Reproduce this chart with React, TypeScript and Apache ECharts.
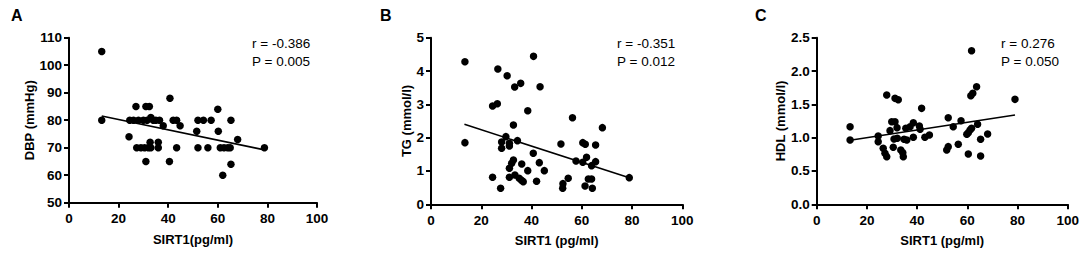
import React, { useEffect, useRef } from "react";
import * as echarts from "echarts";

// Panel A: SIRT1 (pg/ml) vs DBP (mmHg)
const pointsA: number[][] = [
  [13.2, 105], [13.2, 80],
  [24.5, 80], [26, 80], [28, 80], [30, 80], [31.5, 80], [34, 80], [35, 80], [36.5, 80], [33, 81],
  [42, 80], [43.4, 80], [52, 80], [54.2, 80], [57.3, 80], [65.3, 80],
  [27, 85], [31, 85], [32.4, 85],
  [40.7, 88], [24.2, 74], [38, 78], [44.8, 78],
  [27.3, 70], [29, 70], [30.5, 70], [32, 70], [33, 70], [36, 70], [43.4, 70], [52, 70], [56, 70],
  [61, 70], [62.5, 70], [64, 70], [65, 70], [78.8, 70],
  [32.7, 72], [36, 72], [31, 65], [40.5, 65],
  [51.5, 76], [60, 84], [60.2, 76], [68, 73], [65.3, 64], [62, 60],
];
const fitA: number[][] = [[13.2, 81.5], [78.8, 69.2]];

// Panel B: SIRT1 (pg/ml) vs TG (mmol/l)
const pointsB: number[][] = [
  [13.5, 4.28], [13.5, 1.85], [26.6, 4.06], [30.3, 3.86], [40.8, 4.44], [35.7, 3.63], [33.3, 3.52],
  [43.4, 3.53], [24.5, 2.95], [26.4, 3.02], [38.5, 2.81], [32.8, 2.38], [56.3, 2.6], [68.2, 2.3],
  [29.8, 2.03], [28.1, 1.87], [31.2, 1.83], [31.2, 1.75], [34.4, 1.91], [28.1, 1.68], [40.7, 1.53],
  [32.8, 1.33], [32.1, 1.23], [31.2, 1.08], [36.1, 1.21], [43.1, 1.25], [38.5, 1.01], [45.1, 1.01],
  [24.5, 0.81], [31.2, 0.81], [33.4, 0.88], [35.1, 0.78], [36.0, 0.72], [36.7, 0.68], [42, 0.69],
  [27.7, 0.48], [51.7, 1.81], [60.4, 1.85], [61.4, 1.8], [65.5, 1.78], [57.7, 1.3], [60.4, 1.26],
  [61.9, 1.41], [65.5, 1.28], [63.9, 1.16], [54.6, 0.78], [52.5, 0.62], [52.4, 0.48], [61.3, 0.55],
  [62.6, 0.76], [63.9, 0.76], [64.2, 0.48], [78.9, 0.8],
];
const fitB: number[][] = [[13.3, 2.4], [78.9, 0.8]];

// Panel C: SIRT1 (pg/ml) vs HDL (mmol/l)
const pointsC: number[][] = [
  [13.3, 1.165], [13.3, 0.965], [24.5, 1.025], [24.5, 0.94], [26.5, 0.84], [27.2, 0.765], [27.9, 0.715],
  [27.9, 1.64], [31.2, 1.59], [32.5, 1.57], [29.9, 1.24], [31.2, 1.24], [29.2, 1.105], [32, 1.15],
  [32.1, 0.99], [30.8, 0.98], [30.5, 0.855], [33.5, 0.815], [34.3, 0.775], [34.5, 0.715], [34.8, 0.975],
  [35.9, 0.965], [35.5, 1.14], [37.2, 1.165], [38.5, 1.225], [38.5, 1.005], [40.9, 1.175], [41.2, 1.125],
  [41.8, 1.44], [43.1, 1.005], [44.9, 1.04], [52.4, 1.3], [57.5, 1.255], [54.4, 1.165], [64.1, 1.2],
  [61.1, 1.115], [61.7, 1.14], [59.8, 1.05], [60.4, 1.075], [68.1, 1.055], [65.3, 0.975], [56.4, 0.9],
  [52.4, 0.865], [51.8, 0.815], [60.4, 0.755], [65.3, 0.725], [61.7, 2.305], [63.7, 1.765],
  [62.2, 1.665], [61.4, 1.63], [79, 1.575],
];
const fitC: number[][] = [[13.3, 0.96], [79, 1.34]];

const panelLetters = ["A", "B", "C"];
const xNames = ["SIRT1(pg/ml)", "SIRT1 (pg/ml)", "SIRT1 (pg/ml)"];
const yNames = ["DBP (mmHg)", "TG (mmol/l)", "HDL (mmol/l)"];
const rTexts = ["r = -0.386", "r = -0.351", "r = 0.276"];
const pTexts = ["P = 0.005", "P = 0.012", "P = 0.050"];

const FONT = "Arial, 'Liberation Sans', sans-serif";

export default function App() {
  const ref = useRef<HTMLDivElement>(null);
  useEffect(() => {
    if (!ref.current) return;
    const chart = echarts.init(ref.current, undefined, { renderer: "svg" });

    const grids = [
      { left: 69, top: 37.7, width: 248, height: 165 },
      { left: 431, top: 37.7, width: 251.3, height: 166.6 },
      { left: 816.7, top: 37.7, width: 251, height: 166.6 },
    ];
    const yCfg = [
      { min: 50, max: 110, interval: 10, gap: 31, fmt: (v: number) => String(v) },
      { min: 0, max: 5, interval: 1, gap: 18, fmt: (v: number) => String(v) },
      { min: 0, max: 2.5, interval: 0.5, gap: 30, fmt: (v: number) => v.toFixed(1) },
    ];
    const axisLine = { show: true, lineStyle: { color: "#000", width: 2 } };
    const axisTick = { show: true, length: 5, lineStyle: { color: "#000", width: 2 } };
    const labelStyle = { color: "#000", fontWeight: "bold" as const, fontSize: 13.5, fontFamily: FONT };
    const nameStyle = { color: "#000", fontWeight: "bold" as const, fontSize: 13, fontFamily: FONT };

    const xAxis = grids.map((_, i) => ({
      type: "value",
      gridIndex: i,
      min: 0,
      max: 100,
      interval: 20,
      name: xNames[i],
      nameLocation: "middle",
      nameGap: 30,
      nameTextStyle: nameStyle,
      axisLine,
      axisTick,
      axisLabel: { ...labelStyle, margin: 9 },
      splitLine: { show: false },
    }));
    const yAxis = grids.map((_, i) => ({
      type: "value",
      gridIndex: i,
      min: yCfg[i].min,
      max: yCfg[i].max,
      interval: yCfg[i].interval,
      name: yNames[i],
      nameLocation: "middle",
      nameGap: yCfg[i].gap,
      nameRotate: 90,
      nameTextStyle: nameStyle,
      axisLine,
      axisTick,
      axisLabel: { ...labelStyle, margin: 7, formatter: yCfg[i].fmt },
      splitLine: { show: false },
    }));

    const pts = [pointsA, pointsB, pointsC];
    const fits = [fitA, fitB, fitC];
    const series: any[] = [];
    pts.forEach((p, i) => {
      series.push({
        type: "scatter",
        xAxisIndex: i,
        yAxisIndex: i,
        data: p,
        symbol: "circle",
        symbolSize: 7.5,
        itemStyle: { color: "#000", opacity: 1 },
        z: 3,
      });
      series.push({
        type: "line",
        xAxisIndex: i,
        yAxisIndex: i,
        data: fits[i],
        symbol: "none",
        lineStyle: { color: "#000", width: 1.6 },
        z: 2,
      });
    });

    const letterX = [11, 380, 755];
    const annX = [252, 617, 1001];
    const graphic: any[] = [];
    panelLetters.forEach((l, i) => {
      graphic.push({
        type: "text",
        x: letterX[i],
        y: 15,
        style: { text: l, fontSize: 16, fontWeight: "bold", fontFamily: FONT, fill: "#000", verticalAlign: "middle" },
      });
      graphic.push({
        type: "text",
        x: annX[i],
        y: 43.5,
        style: { text: rTexts[i], fontSize: 13.5, fontFamily: FONT, fill: "#000", verticalAlign: "middle" },
      });
      graphic.push({
        type: "text",
        x: annX[i],
        y: 61,
        style: { text: pTexts[i], fontSize: 13.5, fontFamily: FONT, fill: "#000", verticalAlign: "middle" },
      });
    });

    chart.setOption({
      animation: false,
      backgroundColor: "#fff",
      grid: grids,
      xAxis,
      yAxis,
      series,
      graphic,
    });
    return () => chart.dispose();
  }, []);

  return (
    <div
      ref={ref}
      style={{ position: "fixed", left: 0, top: 0, width: 1084, height: 254, background: "#fff" }}
    />
  );
}
